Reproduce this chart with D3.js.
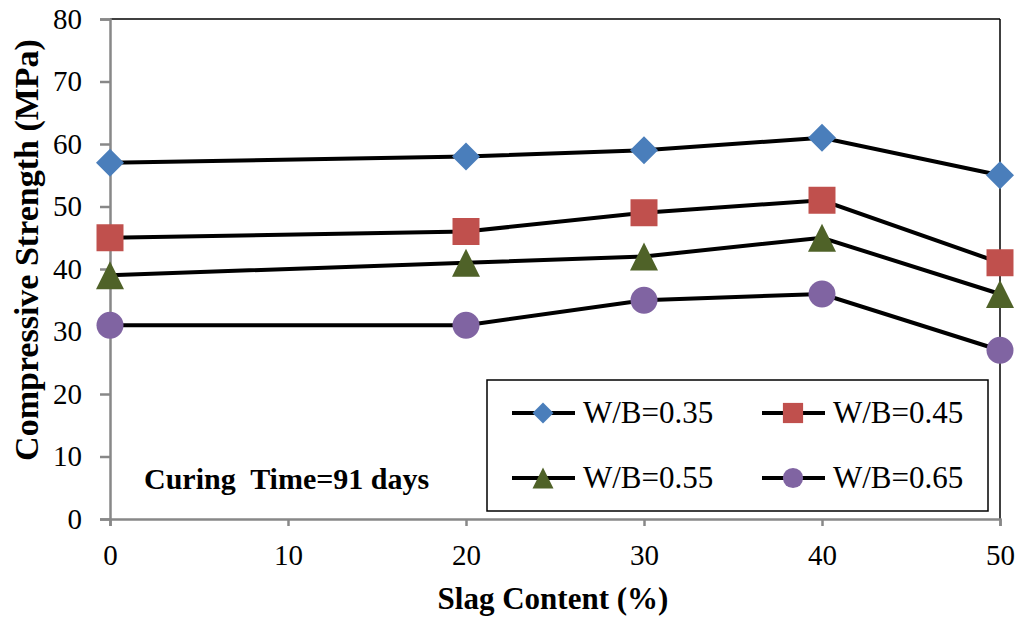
<!DOCTYPE html>
<html><head><meta charset="utf-8">
<script src="https://cdn.jsdelivr.net/npm/d3@7"></script>
<style>body{margin:0;background:#fff}svg{display:block}
svg text{font-family:"Liberation Serif","Times New Roman",Times,"DejaVu Serif",serif !important;}</style>
</head><body>
<script>
const slag = [0, 20, 30, 40, 50];
const wb035 = [57, 58, 59, 61, 55];
const wb045 = [45, 46, 49, 51, 41];
const wb055 = [39, 41, 42, 45, 36];
const wb065 = [31, 31, 35, 36, 27];
const seriesNames = ["W/B=0.35", "W/B=0.45", "W/B=0.55", "W/B=0.65"];
const xTicks = [0, 10, 20, 30, 40, 50];
const yTicks = [0, 10, 20, 30, 40, 50, 60, 70, 80];

const W = 1021, H = 623;
const L = 110, R = 1000, T = 19, B = 519;
const svg = d3.select("body").append("svg").attr("width", W).attr("height", H);
const x = d3.scaleLinear().domain([0, 50]).range([L, R]);
const y = d3.scaleLinear().domain([0, 80]).range([B, T]);

svg.append("line").attr("x1", L).attr("x2", R).attr("y1", T).attr("y2", T).attr("stroke", "#000").attr("stroke-width", 1.5);
svg.append("line").attr("x1", R).attr("x2", R).attr("y1", T).attr("y2", B).attr("stroke", "#000").attr("stroke-width", 1.5);

const gx = svg.append("g").attr("transform", `translate(0,${B})`)
  .call(d3.axisBottom(x).tickValues(xTicks).tickSize(7).tickPadding(18));
const gy = svg.append("g").attr("transform", `translate(${L},0)`)
  .call(d3.axisLeft(y).tickValues(yTicks).tickSize(10).tickPadding(18));
[gx, gy].forEach(g => {
  g.attr("font-family", null);
  g.select(".domain").attr("stroke", "#888").attr("stroke-width", 2.5);
  g.selectAll(".tick line").attr("stroke", "#888").attr("stroke-width", 2.5);
  g.selectAll(".tick text").attr("font-size", 29).attr("fill", "#000");
});

const colors = ["#4a7ebb", "#c0504d", "#4f6228", "#8064a2"];
const diamond = { draw(ctx, size) { const r = Math.sqrt(size / 2); ctx.moveTo(0, -r); ctx.lineTo(r, 0); ctx.lineTo(0, r); ctx.lineTo(-r, 0); ctx.closePath(); } };
const triangle = { draw(ctx, size) { const h = Math.sqrt(size * 2) / 2; ctx.moveTo(0, -h); ctx.lineTo(h, h); ctx.lineTo(-h, h); ctx.closePath(); } };
const shapes = [diamond, d3.symbolSquare, triangle, d3.symbolCircle];
const sizes = [392, 729, 392, 572];
const data = [wb035, wb045, wb055, wb065];

const line = d3.line().x((d, i) => x(slag[i])).y(d => y(d));
data.forEach(s => {
  svg.append("path").datum(s).attr("d", line).attr("fill", "none").attr("stroke", "#000").attr("stroke-width", 4);
});
data.forEach((s, k) => {
  svg.selectAll(null).data(s).enter().append("path")
    .attr("d", d3.symbol().type(shapes[k]).size(sizes[k]))
    .attr("transform", (d, i) => `translate(${x(slag[i])},${y(d)})`)
    .attr("fill", colors[k]);
});

svg.append("rect").attr("x", 487).attr("y", 380).attr("width", 501).attr("height", 131)
  .attr("fill", "#fff").attr("stroke", "#000").attr("stroke-width", 1.5);
const legPos = [[512, 413], [762, 413], [512, 478], [762, 478]];
seriesNames.forEach((n, k) => {
  const [lx, ly] = legPos[k];
  svg.append("line").attr("x1", lx).attr("x2", lx + 63).attr("y1", ly).attr("y2", ly).attr("stroke", "#000").attr("stroke-width", 4);
  svg.append("path").attr("d", d3.symbol().type(shapes[k]).size(sizes[k] * 0.56)())
    .attr("transform", `translate(${lx + 31},${ly})`).attr("fill", colors[k]);
  svg.append("text").attr("x", lx + 71).attr("y", ly + 10).attr("font-size", 31).text(n);
});

svg.append("text").attr("x", 144).attr("y", 489).attr("font-size", 30).attr("font-weight", "bold").style("white-space", "pre").text("Curing  Time=91 days");

svg.append("text").attr("x", 553).attr("y", 609).attr("text-anchor", "middle").attr("font-size", 31).attr("font-weight", "bold").text("Slag Content (%)");
svg.append("text").attr("transform", `translate(38,250) rotate(-90)`).attr("text-anchor", "middle").attr("font-size", 34).attr("font-weight", "bold").text("Compressive Strength (MPa)");
</script>
</body></html>
